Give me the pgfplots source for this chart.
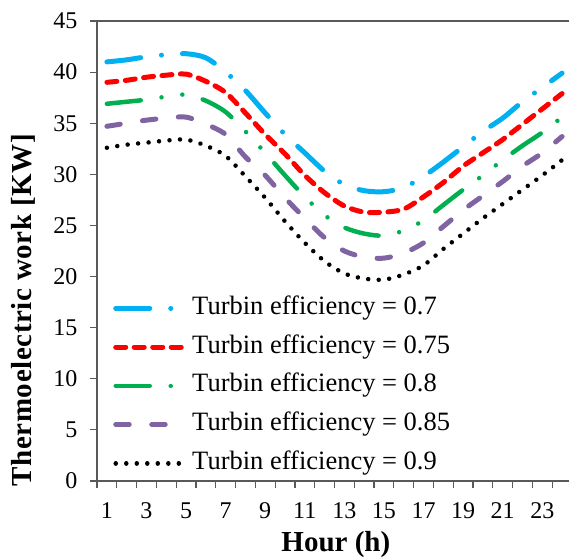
\documentclass[border=0pt]{standalone}
\usepackage{fontspec}
\setmainfont{Liberation Serif}
\usepackage{pgfplots}
\usepackage{pgfplotstable}
\pgfplotsset{compat=1.18}
\usetikzlibrary{calc}
\definecolor{cblue}{HTML}{00B0F0}
\definecolor{cred}{HTML}{FF0000}
\definecolor{cgreen}{HTML}{00B050}
\definecolor{cpurple}{HTML}{8064A2}
\definecolor{caxis}{HTML}{595959}
\pgfplotstableread{
h  a    b    c    d    e
1  41.0 39.0 36.9 34.7 32.6
2  41.2 39.2 37.1 35.0 32.9
3  41.5 39.5 37.3 35.3 33.1
4  41.7 39.7 37.6 35.5 33.3
5  41.8 39.8 37.8 35.6 33.4
6  41.4 39.1 37.2 34.9 32.8
7  40.0 38.0 36.1 33.9 31.8
8  38.2 36.0 34.2 31.7 29.8
9  36.0 33.9 32.1 29.9 27.7
10 33.9 32.0 29.9 27.7 25.4
11 32.1 29.9 27.8 25.7 23.3
12 30.3 28.2 26.0 23.8 21.5
13 29.0 26.9 24.8 22.5 20.3
14 28.4 26.3 24.2 21.9 19.8
15 28.3 26.3 24.0 21.8 19.7
16 28.7 26.6 24.5 22.3 20.2
17 29.8 27.8 25.5 23.3 21.1
18 31.2 29.2 27.0 24.9 22.7
19 32.7 30.8 28.5 26.5 24.2
20 34.2 32.1 29.9 27.9 25.7
21 35.5 33.4 31.4 29.3 27.1
22 37.1 34.9 32.8 30.8 28.5
23 38.5 36.4 34.1 32.1 29.9
24 39.9 37.9 35.6 33.7 31.4
}\datatable
\begin{document}
\begin{tikzpicture}
\begin{axis}[
  name=ax,
  scale only axis,
  width=472pt, height=460pt,
  xmin=0.5, xmax=24.35, ymin=0, ymax=45,
  clip=false,
  axis x line*=bottom, axis y line*=left,
  axis line style={caxis, line width=1.5pt},
  xtick={1,3,...,23},
  ytick={0,5,...,45},
  minor xtick={0.5,1.5,...,23.5},
  minor ytick={0,5,...,45},
  major tick length=0pt,
  minor tick length=7pt,
  tick align=outside,
  every tick/.style={caxis, line width=1.2pt},
  /pgf/number format/assume math mode=true,
  tick label style={font=\fontsize{24}{27}\selectfont},
  xticklabel style={yshift=-18pt},
  yticklabel style={xshift=-16pt},
  xlabel={Hour (h)},
  ylabel={Thermoelectric work [KW]},
  xlabel style={font=\fontsize{29}{34}\selectfont\bfseries, at={(axis description cs:0.506,-0.139)}, anchor=center},
  ylabel style={font=\fontsize{29}{34}\selectfont\bfseries\addfontfeature{LetterSpace=2}, at={(axis description cs:-0.157,0.371)}, anchor=center, rotate=0},
  legend image code/.code={\draw[#1] (0pt,0pt) -- (70pt,0pt);},
  legend cell align=left,
  legend style={at={(axis description cs:0.034,0.402)}, anchor=north west,
    draw=none, fill=none, inner sep=0pt, row sep=14.75pt, column sep=4pt,
    font=\fontsize{26.5}{31}\selectfont,
    nodes={inner sep=0pt, text height=18pt, text depth=6pt}},
  every axis plot/.append style={line cap=round, smooth, tension=0.5},
]
\addplot[cblue, line width=5pt, dash pattern=on 34pt off 21pt on 0.01pt off 21pt] table[x=h,y=a]{\datatable};
\addlegendentry{Turbin efficiency = 0.7}
\addplot[cred, line width=5pt, dash pattern=on 10pt off 8.5pt] table[x=h,y=b]{\datatable};
\addlegendentry{Turbin efficiency = 0.75}
\addplot[cgreen, line width=4.5pt, dash pattern=on 34pt off 21pt on 0.01pt off 21pt on 0.01pt off 21pt] table[x=h,y=c]{\datatable};
\addlegendentry{Turbin efficiency = 0.8}
\addplot[cpurple, line width=5pt, dash pattern=on 13.5pt off 22.5pt] table[x=h,y=d]{\datatable};
\addlegendentry{Turbin efficiency = 0.85}
\addplot[black, line width=4.5pt, dash pattern=on 0.01pt off 10.5pt] table[x=h,y=e]{\datatable};
\addlegendentry{Turbin efficiency = 0.9}
\draw[caxis, line width=1.5pt] (rel axis cs:0,1) -- (rel axis cs:1,1);
\end{axis}
\pgfresetboundingbox
\path[use as bounding box] ($(ax.south west)+(-97pt,-78pt)$) rectangle ($(ax.north east)+(0pt,21pt)$);
\end{tikzpicture}
\end{document}
